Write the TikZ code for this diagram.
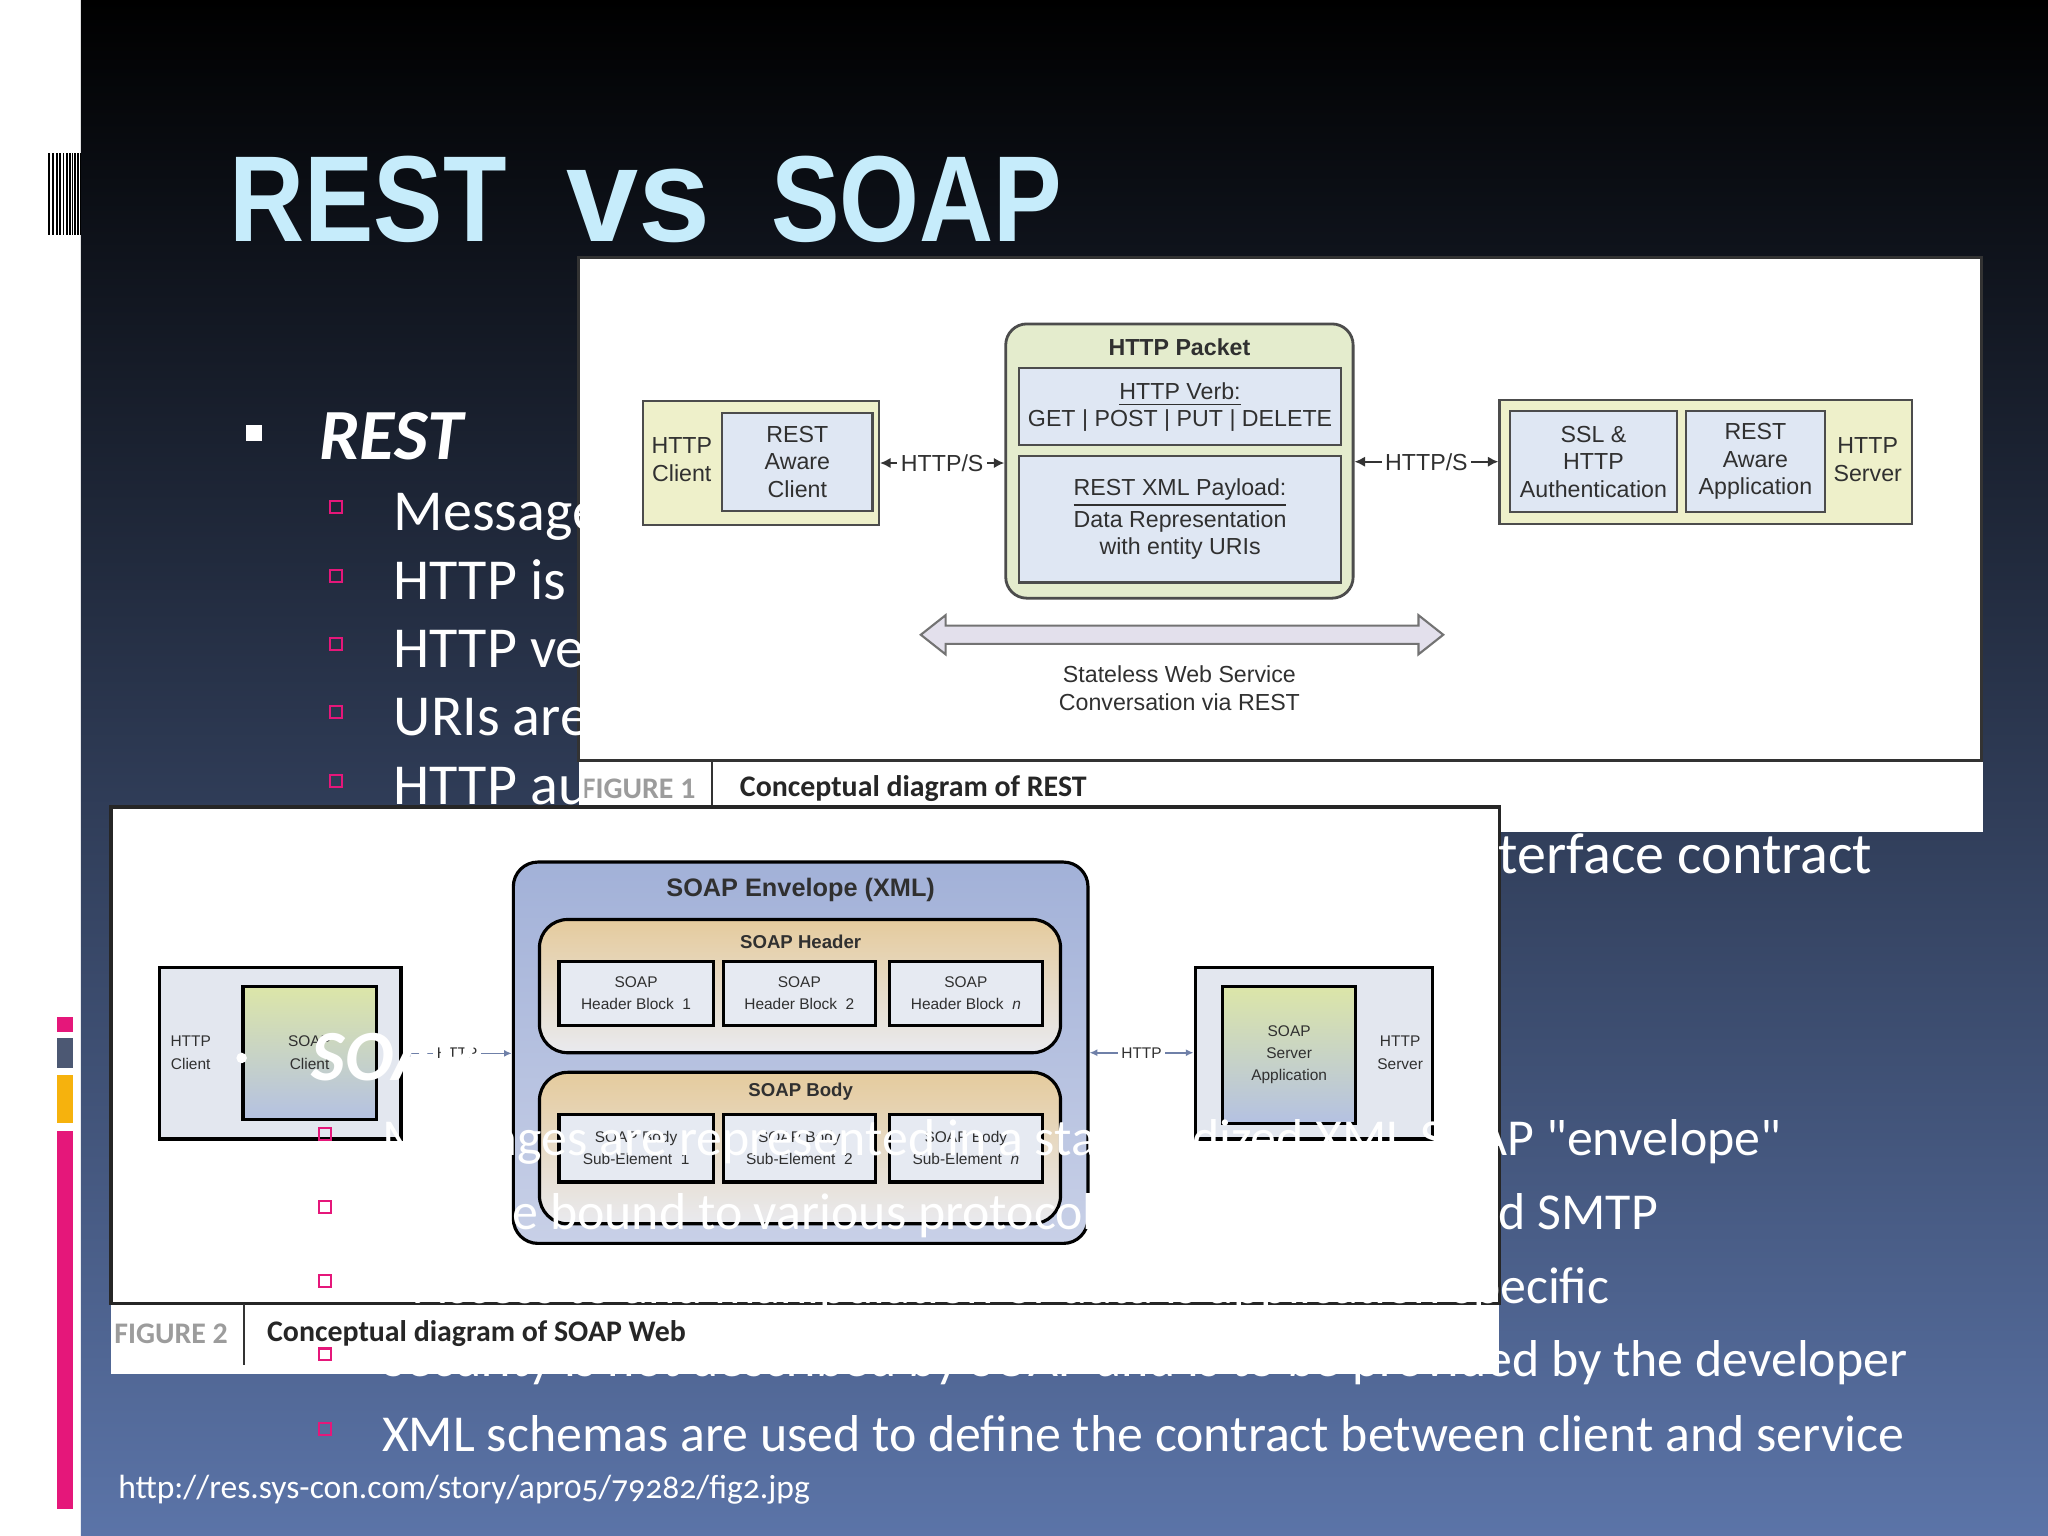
\documentclass[tikz,border=0pt]{standalone}
\usepackage{fontspec}
\setmainfont{Carlito}
\newfontfamily\figfont{Liberation Sans}
\usetikzlibrary{arrows.meta,positioning}

\definecolor{slidemid}{HTML}{27314A}
\definecolor{slidebot}{HTML}{5B74A8}
\definecolor{titlecyan}{HTML}{C6ECFB}
\definecolor{slidepink}{HTML}{E5177A}
\definecolor{barslate}{HTML}{4C5873}
\definecolor{barorange}{HTML}{F6B20D}
\definecolor{figgray}{HTML}{303030}
\definecolor{restyellow}{HTML}{EEF0CA}
\definecolor{restblue}{HTML}{DFE7F3}
\definecolor{packetgreen}{HTML}{E4ECCD}
\definecolor{convlav}{HTML}{E3E0EC}
\definecolor{envtop}{HTML}{A2B1D8}
\definecolor{envbot}{HTML}{C8D0E7}
\definecolor{headtop}{HTML}{E5CB9D}
\definecolor{headbot}{HTML}{E9EAEF}
\definecolor{soapblock}{HTML}{E6EAF2}
\definecolor{soapframe}{HTML}{E3E7EF}
\definecolor{gradtop}{HTML}{DCE6A8}
\definecolor{gradbot}{HTML}{B4C1E2}
\definecolor{linkblue}{HTML}{6F80A8}
\definecolor{capgray}{HTML}{9C9C9C}

% box from corner to corner, in slide units
\newcommand\boxnode[7]{%
  \node[#1,minimum width={(#5-#3)*0.3716pt},minimum height={(#6-#4)*0.3716pt}]
    (#2) at ({(#3+#5)/2},{(#4+#6)/2}) {#7};}

\begin{document}
\begin{tikzpicture}[x=0.013061cm,y=-0.013061cm,
  panel/.style={fill=white,inner sep=0pt},
  figtext/.style={font=\figfont\fontsize{6.6}{7.8}\selectfont,text=figgray,align=center},
  restbox/.style={draw=black!70,line width=0.6pt,fill=restblue,inner sep=0pt,figtext},
  restouter/.style={restbox,fill=restyellow},
  link/.style={{Latex[length=3pt,width=3pt]}-{Latex[length=3pt,width=3pt]},line width=0.6pt,black!80},
  linklbl/.style={figtext,fill=white,inner sep=1pt},
  soaptext/.style={font=\figfont\fontsize{4.4}{6.3}\selectfont,text=figgray,align=center},
  soaptitle/.style={font=\figfont\bfseries\fontsize{5.3}{6}\selectfont,text=figgray},
  soapbox/.style={draw=black,line width=0.9pt,fill=soapblock,inner sep=0pt,soaptext},
  soapouter/.style={soapbox,fill=soapframe},
  soapgrad/.style={soapbox,top color=gradtop,bottom color=gradbot},
  soaplink/.style={{Latex[length=2.2pt,width=2pt]}-{Latex[length=2.2pt,width=2pt]},line width=0.5pt,linkblue},
  soaplbl/.style={soaptext,fill=white,inner sep=1pt},
  capfig/.style={anchor=west,inner sep=0pt,text=capgray,font=\bfseries\fontsize{8.5}{10}\selectfont},
  captext/.style={anchor=west,inner sep=0pt,text=black!85,font=\bfseries\fontsize{8.5}{10}\selectfont},
  titletext/.style={anchor=base west,inner sep=0pt,text=titlecyan,font=\figfont\bfseries\fontsize{34.8}{40}\selectfont},
  headtext/.style={anchor=base west,inner sep=0pt,text=white,font=\bfseries\itshape\fontsize{20.5}{23}\selectfont},
  slidetext/.style={anchor=base west,inner sep=0pt,text=white,font=\fontsize{14.75}{17}\selectfont},
  restext/.style={slidetext,font=\fontsize{16.5}{19}\selectfont},
  pinkbullet/.style={draw=slidepink,line width=0.6pt,minimum size=3.4pt,inner sep=0pt}]

\useasboundingbox (0,0) rectangle (1568,1176);

% slide background
\fill[white] (0,0) rectangle (1568,1176);
\shade[top color=black,middle color=slidemid,bottom color=slidebot] (62,0) rectangle (1568,1176);
\foreach \bx in {37,40,43,45.5,48,50.5,53,55,57,59,61}
  \fill[black] (\bx,117) rectangle ++(1.2,63);

% title
\node[titletext] (ttlrest) at (175,185) {\scalebox{0.85}[1]{REST}};
\node[titletext] (ttlvs) at (433,185) {\scalebox{1.06}[1.1]{vs}};
\node[titletext] (ttlsoap) at (590,185) {\scalebox{0.84}[1]{SOAP}};

% figure 1: REST
\boxnode{panel}{rcap}{443}{582}{1518}{637}{}
\boxnode{panel,draw=black!80,line width=0.8pt}{rpanel}{443}{197}{1517}{582}{}
\draw[black!80,line width=0.6pt] (545,582) -- (545,637);
\node[capfig] (rfig) at (445,604) {FIGURE 1};
\node[captext] (rcaption) at (566,604) {Conceptual diagram of REST};

\boxnode{restouter}{rclient}{492}{307}{673}{402}{}
\node[figtext] (rclientlbl) at (522,352) {HTTP\\Client};
\boxnode{restbox}{rawclient}{553}{316}{668}{391}{REST\\Aware\\Client}

\boxnode{restouter,fill=packetgreen,rounded corners=6pt,line width=0.8pt}{packet}{770}{248}{1036}{458}{}
\node[figtext,font=\figfont\bfseries\fontsize{6.6}{7.8}\selectfont] (pkttitle) at (903,266) {HTTP Packet};
\boxnode{restbox}{verb}{780}{282}{1027}{341}{\underline{HTTP Verb:}\\GET | POST | PUT | DELETE}
\boxnode{restbox}{payload}{780}{349}{1027}{446}{\underline{REST XML Payload:}\\Data Representation\\with entity URIs}

\boxnode{restouter}{rserver}{1148}{306}{1464}{401}{}
\boxnode{restbox}{sslauth}{1156}{315}{1284}{392}{SSL \&\\HTTP\\Authentication}
\boxnode{restbox}{rawapp}{1291}{315}{1397}{392}{REST\\Aware\\Application}
\node[figtext] (rserverlbl) at (1430,352) {HTTP\\Server};

\draw[link] (rclient.east) -- node[linklbl] {HTTP/S} (rclient.east -| packet.west);
\draw[link] (packet.east |- rserver.west) -- node[linklbl] {HTTP/S} (rserver.west);

\filldraw[fill=convlav,draw=black!55,line width=0.6pt] (705,486) -- (724,471) -- (724,479)
  -- (1086,479) -- (1086,471) -- (1105,486) -- (1086,501) -- (1086,493)
  -- (724,493) -- (724,501) -- cycle;
\node[figtext] (convlbl) at (903,527) {Stateless Web Service\\Conversation via REST};

% figure 2: SOAP
\boxnode{panel}{scap}{85}{998}{1148}{1052}{}
\boxnode{panel,draw=black!85,line width=1pt}{spanel}{85}{618}{1148}{998}{}
\draw[black!80,line width=0.6pt] (187,998) -- (187,1045);
\node[capfig] (sfig) at (87,1021) {FIGURE 2};
\node[captext] (scaption) at (204,1021) {Conceptual diagram of SOAP Web};

\boxnode{soapouter}{sclient}{122}{741}{307}{872}{}
\node[soaptext] (sclientlbl) at (146,806) {HTTP\\Client};
\boxnode{soapgrad}{soapclient}{186}{755}{288}{857}{SOAP\\Client}

\boxnode{soapbox,top color=envtop,bottom color=envbot,rounded corners=7pt}{envelope}{393}{660}{833}{952}{}
\node[soaptitle,font=\figfont\bfseries\fontsize{7.2}{8}\selectfont] (envtitle) at (613,681) {SOAP Envelope (XML)};
\boxnode{soapbox,top color=headtop,bottom color=headbot,rounded corners=8pt}{header}{413}{704}{812}{806}{}
\node[soaptitle] (headtitle) at (613,721) {SOAP Header};
\boxnode{soapbox,top color=headtop,bottom color=headbot,rounded corners=8pt}{body}{413}{821}{812}{937}{}
\node[soaptitle] (bodytitle) at (613,836) {SOAP Body};
\foreach \lx/\rx/\k [count=\i] in {428/546/1,554/670/2,681/798/\textit{n}} {
  \boxnode{soapbox}{hblock\i}{\lx}{736}{\rx}{785}{SOAP\\Header Block\ \ \k}
  \boxnode{soapbox}{bblock\i}{\lx}{853}{\rx}{905}{SOAP Body\\Sub-Element\ \ \k}
}

\boxnode{soapouter}{sserver}{915}{741}{1097}{872}{}
\boxnode{soapgrad}{soapapp}{936}{755}{1038}{860}{SOAP\\Server\\Application}
\node[soaptext] (sserverlbl) at (1072,806) {HTTP\\Server};

\draw[soaplink] (sclient.east) -- node[soaplbl] {HTTP} (sclient.east -| envelope.west);
\draw[soaplink] (envelope.east) -- node[soaplbl] {HTTP} (envelope.east -| sserver.west);

% slide text, lying over the figures
\node[fill=white,minimum size=4.8pt,inner sep=0pt] (restmark) at (194.5,331.5) {};
\node[headtext] (resthead) at (244,352) {REST};
\foreach \by/\txt [count=\i] in {388/Message,441/HTTP is,493/HTTP ve,545/URIs are,598/HTTP au} {
  \node[pinkbullet] (restdot\i) at (257,\by) {};
  \node[restext] (restline\i) at (301,\by+18) {\txt};
}
\node[restext,anchor=base east] (restline6) at (1434,669) {interface contract};

\node[circle,fill=white,minimum size=3pt,inner sep=0pt] (soapmark) at (185,810) {};
\node[headtext] (soaphead) at (238,827) {SOAP};
\foreach \by [count=\i] in {868,924,981,1037,1094}
  \node[pinkbullet] (soapdot\i) at (249,\by) {};
\node[slidetext] (soapline1) at (292,885) {Messages are represented in a standardized XML SOAP \textquotedbl envelope\textquotedbl};
\node[slidetext] (soapline2a) at (292,941) {May be bound to various protocols};
\node[slidetext,anchor=base east] (soapline2b) at (1270,941) {such as HTTP and SMTP};
\node[slidetext,anchor=base east] (soapline3) at (1233,998) {Access to and manipulation of data is application specific};
\node[slidetext,anchor=base east] (soapline4) at (1461,1054) {Security is not described by SOAP and is to be provided by the developer};
\node[slidetext] (soapline5) at (292,1111) {XML schemas are used to define the contract between client and service};

\node[slidetext,font=\fontsize{9.55}{12}\selectfont\addfontfeatures{Numbers=OldStyle}] (srcurl) at (90,1147) {http://res.sys-con.com/story/apr05/79282/fig2.jpg};

% side bar
\fill[slidepink] (44,779) rectangle (56,790);
\fill[barslate] (44,795) rectangle (56,818);
\fill[barorange] (44,823) rectangle (56,860);
\fill[slidepink] (44,866) rectangle (56,1155);
\end{tikzpicture}
\end{document}
